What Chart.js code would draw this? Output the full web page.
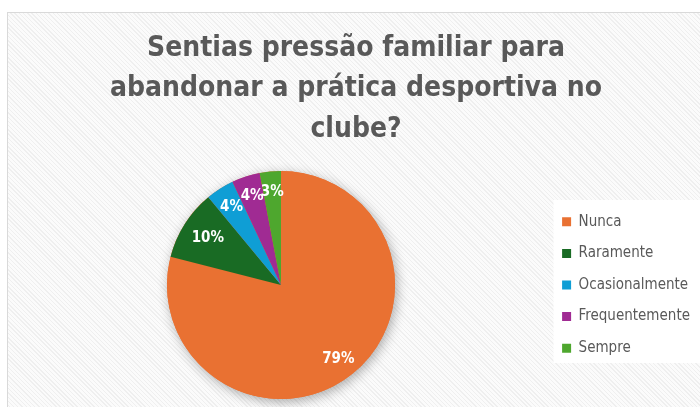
<!DOCTYPE html>
<html lang="pt">
<head>
<meta charset="utf-8">
<script src="https://cdn.jsdelivr.net/npm/chart.js@4/dist/chart.umd.min.js"></script>
<style>
  html, body { margin: 0; padding: 0; background: #fff; overflow: hidden; width: 700px; height: 407px; }
  #frame {
    position: absolute; left: 7px; top: 12px; width: 702px; height: 400px;
    border: 1px solid #d9d9d9;
    background: repeating-linear-gradient(45deg, #fbfbfb 0 2px, #efefef 2px 3px);
  }
  #chart { position: absolute; left: 0; top: 0; }
</style>
</head>
<body>
<div id="frame"><canvas id="chart" width="702" height="394"></canvas></div>
<script>
// ── Data ──────────────────────────────────────────────────────────────────────
const categories = ["Nunca", "Raramente", "Ocasionalmente", "Frequentemente", "Sempre"];
const shares = [79, 10, 4, 4, 3];
const colors = ["#E97132", "#196B24", "#0F9ED5", "#A02B93", "#4EA72E"];
const titleLines = ["Sentias pressão familiar para", "abandonar a prática desportiva no", "clube?"];

// how far out (fraction of radius) each percentage label sits
const labelDepth = [0.82, 0.76, 0.81, 0.82, 0.82];
const LEGEND_W = 150;
const TEXT = "#595959";
const COND = "'DejaVu Sans Condensed', 'DejaVu Sans', sans-serif";

// ── Plugins ───────────────────────────────────────────────────────────────────
// fixed-width legend column centred on the pie, white panel behind it
const legendPanel = {
  id: "legendPanel",
  beforeLayout(chart) {
    const lg = chart.legend;
    if (lg && !lg._fixedWidth) {
      const fit = lg.fit;
      lg.fit = function () { fit.call(this); this.width = LEGEND_W; };
      lg._fixedWidth = true;
    }
  },
  afterLayout(chart) {
    const lg = chart.legend;
    if (!lg) return;
    lg.top = chart.chartArea.top;
    lg.bottom = chart.chartArea.bottom;
    lg.height = lg.bottom - lg.top;
  },
  beforeDraw(chart) {
    const lg = chart.legend;
    if (!lg) return;
    const ctx = chart.ctx;
    const cy = (lg.top + lg.bottom) / 2;
    ctx.save();
    ctx.fillStyle = "#ffffff";
    ctx.fillRect(lg.left + 8, cy - 85, chart.width, 163);
    ctx.restore();
  },
};

// soft drop shadow under the whole pie
const pieShadow = {
  id: "pieShadow",
  beforeDatasetsDraw(chart) {
    const arc = chart.getDatasetMeta(0).data[0];
    if (!arc) return;
    const ctx = chart.ctx;
    ctx.save();
    ctx.shadowColor = "rgba(0,0,0,0.32)";
    ctx.shadowBlur = 12;
    ctx.shadowOffsetX = 2;
    ctx.shadowOffsetY = 3;
    ctx.fillStyle = colors[0];
    ctx.beginPath();
    ctx.arc(arc.x, arc.y, arc.outerRadius, 0, Math.PI * 2);
    ctx.fill();
    ctx.restore();
  },
};

// percentage labels inside the slices
const sliceLabels = {
  id: "sliceLabels",
  afterDatasetsDraw(chart) {
    const ctx = chart.ctx;
    ctx.save();
    ctx.font = "bold 15px " + COND;
    ctx.fillStyle = "#ffffff";
    ctx.textAlign = "center";
    ctx.textBaseline = "middle";
    chart.getDatasetMeta(0).data.forEach((arc, i) => {
      const mid = (arc.startAngle + arc.endAngle) / 2;
      const r = arc.outerRadius * labelDepth[i];
      ctx.fillText(shares[i] + "%", arc.x + Math.cos(mid) * r, arc.y + Math.sin(mid) * r);
    });
    ctx.restore();
  },
};

// ── Chart ─────────────────────────────────────────────────────────────────────
new Chart(document.getElementById("chart"), {
  type: "pie",
  data: {
    labels: categories,
    datasets: [{ data: shares, backgroundColor: colors, borderWidth: 0 }],
  },
  options: {
    responsive: false,
    animation: false,
    layout: { padding: { left: 8.5, right: 14.5, top: 0, bottom: 8 } },
    plugins: {
      title: {
        display: true,
        text: titleLines,
        color: TEXT,
        font: { family: COND, size: 28, weight: "bold", lineHeight: 1.446 },
        padding: { top: 15.05, bottom: 21.45 },
      },
      legend: {
        position: "right",
        align: "center",
        labels: {
          color: TEXT,
          font: { family: COND, size: 15 },
          boxWidth: 9,
          boxHeight: 9,
          padding: 16.6,
        },
      },
      tooltip: { enabled: false },
    },
  },
  plugins: [legendPanel, pieShadow, sliceLabels],
});
</script>
</body>
</html>
